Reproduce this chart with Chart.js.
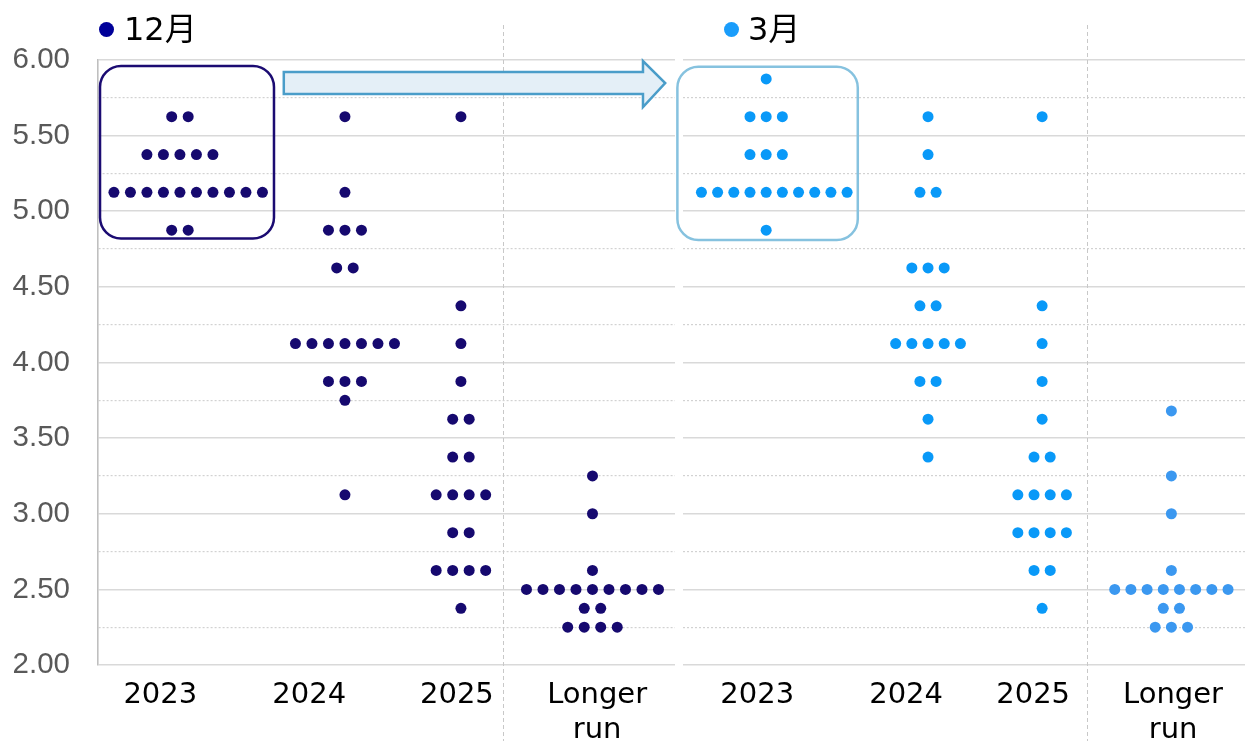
<!DOCTYPE html>
<html>
<head>
<meta charset="utf-8">
<script src="https://cdn.jsdelivr.net/npm/chart.js@4/dist/chart.umd.min.js"></script>
<style>
  html, body { margin: 0; padding: 0; background: #fff; }
  #wrap { position: relative; width: 1245px; height: 741px; overflow: hidden; }
  #wrap canvas { position: absolute; top: 0; }
  .key-dot { position: absolute; width: 15px; height: 15px; border-radius: 50%; }
  .key-text { position: absolute; top: 9px; font-size: 32px; line-height: 40px;
              font-family: "DejaVu Sans", "Noto Sans CJK JP", sans-serif; color: #000; white-space: nowrap; }
</style>
</head>
<body>
<div id="wrap">
  <canvas id="dec" width="680" height="741" style="left:0"></canvas>
  <canvas id="mar" width="575" height="741" style="left:670px"></canvas>
  <div class="key-dot" style="left:99px;top:22px;background:#000099"></div>
  <div class="key-text" style="left:124px">12月</div>
  <div class="key-dot" style="left:724px;top:22px;background:#1a9dfb"></div>
  <div class="key-text" style="left:748px">3月</div>
</div>
<script>
// Projection horizons and their axis text
const categories = ['2023', '2024', '2025', 'Longer run'];
const categoryLines = [['2023'], ['2024'], ['2025'], ['Longer', 'run']];
const yTickLabels = ['2.00', '2.50', '3.00', '3.50', '4.00', '4.50', '5.00', '5.50', '6.00'];

// 12月: one value per participant, by horizon
const dec2023 = [5.625, 5.625,
  5.375, 5.375, 5.375, 5.375, 5.375,
  5.125, 5.125, 5.125, 5.125, 5.125, 5.125, 5.125, 5.125, 5.125, 5.125,
  4.875, 4.875];
const dec2024 = [5.625, 5.125,
  4.875, 4.875, 4.875,
  4.625, 4.625,
  4.125, 4.125, 4.125, 4.125, 4.125, 4.125, 4.125,
  3.875, 3.875, 3.875,
  3.75, 3.125];
const dec2025 = [5.625, 4.375, 4.125, 3.875,
  3.625, 3.625,
  3.375, 3.375,
  3.125, 3.125, 3.125, 3.125,
  2.875, 2.875,
  2.625, 2.625, 2.625, 2.625,
  2.375];
const decLonger = [3.25, 3.00, 2.625,
  2.50, 2.50, 2.50, 2.50, 2.50, 2.50, 2.50, 2.50, 2.50,
  2.375, 2.375,
  2.25, 2.25, 2.25, 2.25];

// 3月: one value per participant, by horizon
const mar2023 = [5.875,
  5.625, 5.625, 5.625,
  5.375, 5.375, 5.375,
  5.125, 5.125, 5.125, 5.125, 5.125, 5.125, 5.125, 5.125, 5.125, 5.125,
  4.875];
const mar2024 = [5.625, 5.375,
  5.125, 5.125,
  4.625, 4.625, 4.625,
  4.375, 4.375,
  4.125, 4.125, 4.125, 4.125, 4.125,
  3.875, 3.875,
  3.625, 3.375];
const mar2025 = [5.625, 4.375, 4.125, 3.875, 3.625,
  3.375, 3.375,
  3.125, 3.125, 3.125, 3.125,
  2.875, 2.875, 2.875, 2.875,
  2.625, 2.625,
  2.375];
const marLonger = [3.68, 3.25, 3.00, 2.625,
  2.50, 2.50, 2.50, 2.50, 2.50, 2.50, 2.50, 2.50,
  2.375, 2.375,
  2.25, 2.25, 2.25];

// Panel geometry, in percent of each panel's plot width
const decLayout = {
  centers: [14.2, 42.8, 62.9, 85.7], step: 2.86,
  labelAt: [10.8, 36.6, 62.2, 86.5], divider: 70.2,
  box: { x0: 0.35, x1: 30.5, y0: 4.82, y1: 5.96, color: '#1b0b72' },
  arrow: { x0: 32.2, xHead: 94.45, xTip: 98.3, shaftTop: 5.921, shaftBot: 5.775,
           headTop: 5.993, headBot: 5.689, tipY: 5.848 }
};
const marLayout = {
  centers: [14.8, 43.6, 63.9, 86.9], step: 2.88,
  labelAt: [13.2, 39.7, 62.3, 87.2], divider: 71.9,
  box: { x0: -1.0, x1: 31.1, y0: 4.81, y1: 5.955, color: '#86c2df' }
};

// Stack equal values into a centred row of dots; the widest rows keep to the
// whole-step grid and run one step further to the right.
function dotPoints(columns, layout) {
  const pts = [];
  columns.forEach((vals, c) => {
    const rows = new Map();
    vals.forEach(v => rows.set(v, (rows.get(v) || 0) + 1));
    rows.forEach((n, v) => {
      const shift = n >= 10 ? 0.5 : 0;
      for (let i = 0; i < n; i++) {
        pts.push({ x: layout.centers[c] + (i - (n - 1) / 2 + shift) * layout.step, y: v, col: c });
      }
    });
  });
  return pts;
}

function roundRect(ctx, x, y, w, h, r) {
  ctx.beginPath();
  ctx.moveTo(x + r, y);
  ctx.lineTo(x + w - r, y);
  ctx.arcTo(x + w, y, x + w, y + r, r);
  ctx.lineTo(x + w, y + h - r);
  ctx.arcTo(x + w, y + h, x + w - r, y + h, r);
  ctx.lineTo(x + r, y + h);
  ctx.arcTo(x, y + h, x, y + h - r, r);
  ctx.lineTo(x, y + r);
  ctx.arcTo(x, y, x + r, y, r);
  ctx.closePath();
}

// Dashed divider before the long-run column, the highlight box and the arrow
const overlay = {
  id: 'overlay',
  beforeDatasetsDraw(chart, args, opts) {
    const { ctx } = chart;
    const dx = Math.round(chart.scales.x.getPixelForValue(opts.divider)) + 0.5;
    ctx.save();
    ctx.strokeStyle = '#c8c8c8';
    ctx.lineWidth = 1;
    ctx.setLineDash([4, 3]);
    ctx.beginPath();
    ctx.moveTo(dx, 25);
    ctx.lineTo(dx, chart.height);
    ctx.stroke();
    ctx.restore();
  },
  afterDatasetsDraw(chart, args, opts) {
    const { ctx } = chart;
    const xs = chart.scales.x, ys = chart.scales.y;
    ctx.save();
    const b = opts.box;
    const bx0 = xs.getPixelForValue(b.x0), bx1 = xs.getPixelForValue(b.x1);
    const by0 = ys.getPixelForValue(b.y1), by1 = ys.getPixelForValue(b.y0);
    roundRect(ctx, bx0, by0, bx1 - bx0, by1 - by0, 21);
    ctx.strokeStyle = b.color;
    ctx.lineWidth = 2.5;
    ctx.stroke();
    const a = opts.arrow;
    if (a) {
      const X = v => xs.getPixelForValue(v), Y = v => ys.getPixelForValue(v);
      ctx.beginPath();
      ctx.moveTo(X(a.x0), Y(a.shaftTop));
      ctx.lineTo(X(a.xHead), Y(a.shaftTop));
      ctx.lineTo(X(a.xHead), Y(a.headTop));
      ctx.lineTo(X(a.xTip), Y(a.tipY));
      ctx.lineTo(X(a.xHead), Y(a.headBot));
      ctx.lineTo(X(a.xHead), Y(a.shaftBot));
      ctx.lineTo(X(a.x0), Y(a.shaftBot));
      ctx.closePath();
      ctx.fillStyle = '#e4eff7';
      ctx.fill();
      ctx.lineJoin = 'miter';
      ctx.lineWidth = 2.5;
      ctx.strokeStyle = '#4a9dc9';
      ctx.stroke();
    }
    ctx.restore();
  }
};

function isHalf(v) { return Math.abs(v * 2 - Math.round(v * 2)) < 1e-6; }

function makePanel(canvasId, columns, layout, colors, showAxis) {
  return new Chart(document.getElementById(canvasId), {
    type: 'scatter',
    data: {
      datasets: [{
        data: dotPoints(columns, layout),
        backgroundColor: ctx => (ctx.raw && ctx.raw.col === 3) ? colors.longer : colors.main,
        borderWidth: 0,
        pointRadius: 5.5,
        pointHoverRadius: 5.5,
        clip: false
      }]
    },
    options: {
      responsive: false,
      animation: false,
      devicePixelRatio: 1,
      layout: {
        autoPadding: false,
        padding: { top: 60, bottom: 0, left: showAxis ? 0 : 13, right: showAxis ? 5 : 0 }
      },
      plugins: {
        legend: { display: false },
        tooltip: { enabled: false },
        overlay: layout
      },
      scales: {
        x: {
          type: 'linear', min: 0, max: 100,
          afterBuildTicks: s => { s.ticks = layout.labelAt.map(v => ({ value: v })); },
          afterFit: s => { s.height = 76; },
          grid: { display: false },
          border: { display: false },
          ticks: {
            autoSkip: false, maxRotation: 0, padding: 5, color: '#000',
            font: { family: 'DejaVu Sans', size: 29, lineHeight: 1.2 },
            callback: (v, i) => categoryLines[i]
          }
        },
        y: {
          type: 'linear', min: 2, max: 6,
          afterBuildTicks: s => {
            const t = [];
            for (let k = 0; k <= 16; k++) t.push({ value: 2 + k * 0.25 });
            s.ticks = t;
          },
          afterFit: s => { s.width = showAxis ? 98 : 0; },
          grid: {
            drawTicks: false,
            lineWidth: ctx => (ctx.tick && isHalf(ctx.tick.value)) ? 1.6 : 1.2,
            color: ctx => (ctx.tick && isHalf(ctx.tick.value)) ? '#d9d9d9' : '#d2d2d2'
          },
          border: {
            display: showAxis, color: '#bfbfbf', width: 1.6,
            dash: ctx => (ctx.tick && !isHalf(ctx.tick.value)) ? [2, 2] : []
          },
          ticks: {
            display: showAxis, autoSkip: false, padding: 28, color: '#595959',
            font: { family: 'Liberation Sans', size: 29.5 },
            callback: v => {
              const i = Math.round((v - 2) / 0.5);
              return isHalf(v) ? yTickLabels[i] : '';
            }
          }
        }
      }
    },
    plugins: [overlay]
  });
}

makePanel('dec', [dec2023, dec2024, dec2025, decLonger], decLayout,
  { main: '#16096f', longer: '#16096f' }, true);
makePanel('mar', [mar2023, mar2024, mar2025, marLonger], marLayout,
  { main: '#0999f8', longer: '#3b98f0' }, false);
</script>
</body>
</html>
